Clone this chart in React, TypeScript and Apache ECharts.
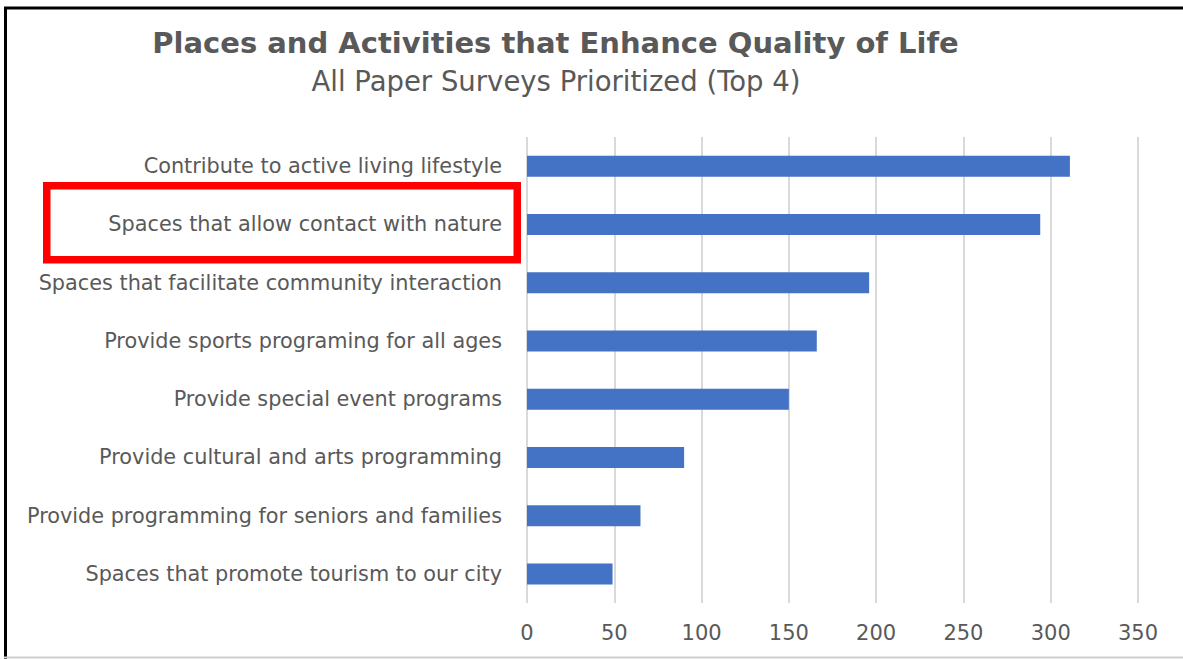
import React, { useEffect, useRef } from "react";
import * as echarts from "echarts";

const categories = [
  "Contribute to active living lifestyle",
  "Spaces that allow contact with nature",
  "Spaces that facilitate community interaction",
  "Provide sports programing for all ages",
  "Provide special event programs",
  "Provide cultural and arts programming",
  "Provide programming for seniors and families",
  "Spaces that promote tourism to our city",
];
const values = [311, 294, 196, 166, 150, 90, 65, 49];
const titleText = "Places and Activities that Enhance Quality of Life";
const subtitleText = "All Paper Surveys Prioritized (Top 4)";

const FONT = "'DejaVu Sans', sans-serif";
const TEXT = "#595959";

export default function App() {
  const ref = useRef<HTMLDivElement>(null);
  useEffect(() => {
    document.body.style.margin = "0";
    if (!ref.current) return;
    const chart = echarts.init(ref.current, null, { renderer: "svg" });
    chart.setOption({
      animation: false,
      backgroundColor: "#ffffff",
      title: [
        {
          text: titleText,
          left: 550.5,
          top: 38,
          textAlign: "center",
          textVerticalAlign: "middle",
          textStyle: { fontFamily: FONT, fontSize: 29, fontWeight: "bold", color: TEXT },
        },
        {
          text: subtitleText,
          left: 551,
          top: 76,
          textAlign: "center",
          textVerticalAlign: "middle",
          textStyle: { fontFamily: FONT, fontSize: 27.5, fontWeight: "normal", color: TEXT },
        },
      ],
      grid: { left: 527, right: 45, top: 137, bottom: 56, containLabel: false },
      xAxis: {
        type: "value",
        min: 0,
        max: 350,
        interval: 50,
        axisLine: { show: false },
        axisTick: { show: false },
        axisLabel: { fontFamily: FONT, fontSize: 21, color: TEXT, margin: 19 },
        splitLine: { show: true, lineStyle: { color: "#d9d9d9", width: 2 } },
      },
      yAxis: {
        type: "category",
        inverse: true,
        data: categories,
        axisLine: { show: false },
        axisTick: { show: false },
        axisLabel: { fontFamily: FONT, fontSize: 20.8, color: TEXT, margin: 25 },
      },
      series: [
        {
          type: "bar",
          data: values,
          barWidth: 21,
          itemStyle: { color: "#4472C4" },
        },
      ],
      graphic: [
        { type: "line", shape: { x1: 5.5, y1: 8, x2: 5.5, y2: 659 }, style: { stroke: "#000", lineWidth: 3 } },
        { type: "line", shape: { x1: 4, y1: 8, x2: 1183, y2: 8 }, style: { stroke: "#000", lineWidth: 3 } },
        { type: "line", shape: { x1: 4, y1: 657.5, x2: 1183, y2: 657.5 }, style: { stroke: "#d0d0d0", lineWidth: 2 } },
        {
          type: "rect",
          shape: { x: 46.75, y: 185.75, width: 470.5, height: 74 },
          style: { fill: "none", stroke: "#ff0000", lineWidth: 7.5 },
        },
      ],
    });
    return () => chart.dispose();
  }, []);
  return <div ref={ref} style={{ width: 1183, height: 659 }} />;
}
